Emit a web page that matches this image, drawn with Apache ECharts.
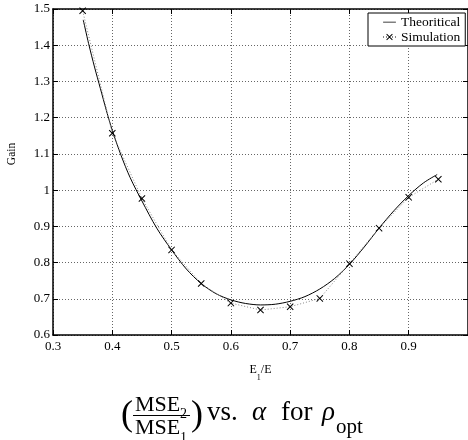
<!DOCTYPE html>
<html>
<head>
<meta charset="utf-8">
<script src="https://cdn.jsdelivr.net/npm/echarts@6/dist/echarts.min.js"></script>
<style>html,body{margin:0;padding:0;background:#fff}#c{width:468px;height:440px}</style>
</head>
<body>
<div id="c"></div>
<script>
// Simulation points (E1/E, Gain)
var simX = [0.35, 0.40, 0.45, 0.50, 0.55, 0.60, 0.65, 0.70, 0.75, 0.80, 0.85, 0.90, 0.95];
var simY = [1.495, 1.157, 0.977, 0.835, 0.742, 0.688, 0.669, 0.678, 0.701, 0.797, 0.895, 0.980, 1.030];
// Theoretical curve samples
var theoX = [0.351, 0.360, 0.370, 0.380, 0.390, 0.400, 0.415, 0.430, 0.450, 0.475, 0.500, 0.525, 0.550, 0.575, 0.600, 0.625, 0.650, 0.675, 0.700, 0.725, 0.750, 0.775, 0.800, 0.825, 0.850, 0.875, 0.900, 0.925, 0.948];
var theoY = [1.470, 1.405, 1.340, 1.280, 1.220, 1.165, 1.095, 1.035, 0.970, 0.895, 0.835, 0.782, 0.742, 0.714, 0.697, 0.687, 0.683, 0.685, 0.693, 0.706, 0.727, 0.756, 0.795, 0.843, 0.895, 0.943, 0.985, 1.020, 1.043];
var xTicks = [0.3, 0.4, 0.5, 0.6, 0.7, 0.8, 0.9, 1.0];
var yTicks = [0.6, 0.7, 0.8, 0.9, 1.0, 1.1, 1.2, 1.3, 1.4, 1.5];

var serif = 'Liberation Serif';
var XPATH = 'path://M0,1L1,0L5,4L9,0L10,1L6,5L10,9L9,10L5,6L1,10L0,9L4,5Z';
var LINEICON = 'path://M0,0L0.01,0L0.01,0.01Z M0,4.6L16,4.6L16,5.5L0,5.5Z M0,9.99L0.01,9.99L0.01,10Z';
function pairs(xs, ys){ return xs.map(function(x,i){return [x, ys[i]];}); }
function fmt(v){ return String(Number(v.toFixed(1))); }

var chart = echarts.init(document.getElementById('c'), null, {renderer:'canvas'});
var gridDotted = {show:true, lineStyle:{color:'#666', width:1, type:[1,2]}};
var tick = {show:true, inside:true, length:5, lineStyle:{color:'#000'}};
var axLine = {show:true, onZero:false, lineStyle:{color:'#000', width:1.5}};
chart.setOption({
  animation:false,
  backgroundColor:'#fff',
  grid:{left:53, top:9, width:417, height:326, containLabel:false},
  xAxis:[{
    type:'value', min:xTicks[0], max:xTicks[xTicks.length-1], interval:0.1,
    name:'E{s|1}/E', nameLocation:'middle', nameGap:29,
    nameTextStyle:{fontFamily:serif, fontSize:12, color:'#000', rich:{s:{fontFamily:serif, fontSize:8, color:'#000', verticalAlign:'bottom', padding:[0,0,-6,0]}}},
    axisLine:axLine, axisTick:tick,
    axisLabel:{fontFamily:serif, fontSize:13, color:'#000', margin:5, formatter:fmt, showMaxLabel:false},
    splitLine:gridDotted
  },{
    type:'value', position:'top', min:xTicks[0], max:xTicks[xTicks.length-1], interval:0.1,
    axisLine:axLine, axisTick:tick, axisLabel:{show:false}, splitLine:{show:false}
  }],
  yAxis:[{
    type:'value', min:yTicks[0], max:yTicks[yTicks.length-1], interval:0.1,
    axisLine:axLine, axisTick:tick,
    axisLabel:{fontFamily:serif, fontSize:13, color:'#000', margin:3, formatter:fmt},
    splitLine:gridDotted
  },{
    type:'value', position:'right', min:yTicks[0], max:yTicks[yTicks.length-1], interval:0.1,
    axisLine:axLine, axisTick:tick, axisLabel:{show:false}, splitLine:{show:false}
  }],
  legend:{
    left:368, top:13, orient:'vertical', itemGap:1, itemWidth:13, itemHeight:8,
    padding:[2,5,2,14], borderColor:'#000', borderWidth:1, backgroundColor:'#fff',
    textStyle:{fontFamily:serif, fontSize:13.5, color:'#000'},
    data:[{name:'Theoritical', icon:LINEICON, itemStyle:{color:'#000'}}, {name:'Simulation'}]
  },
  series:[{
    name:'Theoritical', type:'line', data:pairs(theoX, theoY), smooth:0.3,
    symbol:'none', lineStyle:{color:'#000', width:1}, itemStyle:{color:'#000'}, z:3
  },{
    name:'Simulation', type:'line', data:pairs(simX, simY),
    symbol:XPATH, symbolSize:7, showSymbol:true,
    lineStyle:{color:'#888', width:1, type:[1,2]}, itemStyle:{color:'#000'}, z:4
  }],
  graphic:[
    {type:'text', x:12, y:154, rotation:Math.PI/2, style:{text:'Gain', fontFamily:serif, fontSize:11.5, fill:'#000', align:'center', verticalAlign:'middle'}},
    {type:'text', x:121, y:416, style:{text:'(', fontFamily:serif, fontSize:36, fill:'#000', align:'left', verticalAlign:'middle'}},
    {type:'text', x:161, y:405, style:{text:'MSE{s|2}', fontFamily:serif, fontSize:22, fill:'#000', align:'center', verticalAlign:'middle', rich:{s:{fontFamily:serif, fontSize:14, fill:'#000', verticalAlign:'bottom', padding:[0,0,-5,0]}}}},
    {type:'line', shape:{x1:133, y1:415.5, x2:190, y2:415.5}, style:{stroke:'#000', lineWidth:1.2}},
    {type:'text', x:161, y:428, style:{text:'MSE{s|1}', fontFamily:serif, fontSize:22, fill:'#000', align:'center', verticalAlign:'middle', rich:{s:{fontFamily:serif, fontSize:14, fill:'#000', verticalAlign:'bottom', padding:[0,0,-6,0]}}}},
    {type:'text', x:191, y:416, style:{text:')', fontFamily:serif, fontSize:36, fill:'#000', align:'left', verticalAlign:'middle'}},
    {type:'text', x:207, y:413, style:{text:'vs.', fontFamily:serif, fontSize:27, fill:'#000', align:'left', verticalAlign:'middle'}},
    {type:'text', x:252, y:413, style:{text:'α', fontFamily:serif, fontSize:27, fontStyle:'italic', fill:'#000', align:'left', verticalAlign:'middle'}},
    {type:'text', x:281, y:413, style:{text:'for', fontFamily:serif, fontSize:27, fill:'#000', align:'left', verticalAlign:'middle'}},
    {type:'text', x:322, y:413, style:{text:'ρ{s|opt}', fontFamily:serif, fontSize:27, fontStyle:'italic', fill:'#000', align:'left', verticalAlign:'middle', rich:{s:{fontFamily:serif, fontSize:21, fontStyle:'normal', fill:'#000', verticalAlign:'bottom', padding:[0,0,-11,1]}}}}
  ]
});
</script>
</body>
</html>
